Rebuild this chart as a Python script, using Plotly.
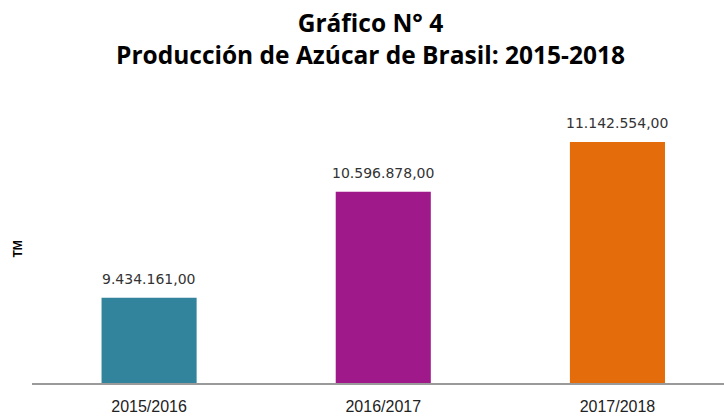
import plotly.graph_objects as go

categories = ["2015/2016", "2016/2017", "2017/2018"]
values = [9434161.00, 10596878.00, 11142554.00]
labels = ["9.434.161,00", "10.596.878,00", "11.142.554,00"]
colors = ["#31849b", "#a0198a", "#e46c0a"]

W, H = 724, 417
ml, mr, mt, mb = 32, 0, 110, 34
px_per_unit = 91.17e-6
y0 = 8.5e6
y1 = y0 + (H - mt - mb) / px_per_unit
tx = (370 - ml) / (W - ml - mr)

fig = go.Figure()
fig.add_trace(go.Bar(
    x=categories, y=values, marker=dict(color=colors, line=dict(width=0)),
    width=0.406, hoverinfo="skip",
))

for c, v, t in zip(categories, values, labels):
    fig.add_annotation(x=c, y=v, text=t, showarrow=False, yanchor="bottom",
                       yshift=9, font=dict(family="DejaVu Sans", size=14, color="#333333"))

fig.add_annotation(xref="paper", yref="paper", x=tx, y=1, yanchor="middle",
                   yshift=72, text="<b>Gráfico N° 4</b><br><b>Producción de Azúcar de Brasil: 2015-2018</b>",
                   showarrow=False,
                   font=dict(family="Open Sans", size=24.5, color="#000000"))
fig.add_annotation(xref="paper", yref="paper", x=0, xshift=-24, y=0.5, yshift=-3,
                   text="<b>TM</b>", textangle=-90, showarrow=False,
                   font=dict(family="Liberation Sans", size=12, color="#000000"))

fig.update_layout(
    width=W, height=H, margin=dict(l=ml, r=mr, t=mt, b=mb),
    paper_bgcolor="white", plot_bgcolor="white", showlegend=False,
    xaxis=dict(type="category", range=[-0.5, 2.455], showline=True, linecolor="#9a9a9a",
               linewidth=1.5, showgrid=False, zeroline=False, ticks="",
               ticklabelstandoff=8,
               tickfont=dict(family="Liberation Sans", size=16, color="#222222")),
    yaxis=dict(range=[y0, y1], visible=False, showgrid=False, zeroline=False),
)

fig.write_html("out.html", config={"displayModeBar": False},
               post_script="document.body.style.margin='0';")
